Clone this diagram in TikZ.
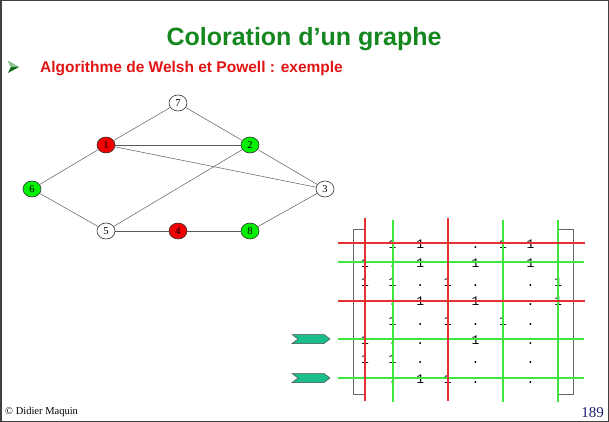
\documentclass[tikz,border=0pt]{standalone}
\usepackage{fontspec}
\setmainfont{Liberation Serif}
\newfontfamily\headfont{Liberation Sans}
\newfontfamily\matfont{Liberation Mono}
\usetikzlibrary{shapes.geometric}
\definecolor{titlegreen}{RGB}{20,135,30}
\definecolor{subred}{RGB}{225,20,20}
\definecolor{vred}{RGB}{240,0,0}
\definecolor{vgreen}{RGB}{0,240,0}
\definecolor{linered}{RGB}{228,50,50}
\definecolor{linegreen}{RGB}{60,232,60}
\definecolor{chev}{RGB}{25,190,140}
\definecolor{pagenum}{RGB}{30,30,110}
\definecolor{edgegray}{RGB}{90,90,90}
\begin{document}
\begin{tikzpicture}[x=1pt,y=-1pt,
  vertex/.style={draw=black!80,line width=0.6pt,ellipse,inner sep=0pt,
    minimum width=18pt,minimum height=16pt,font=\fontsize{10.5}{10.5}\selectfont},
  redv/.style={vertex,fill=vred},
  greenv/.style={vertex,fill=vgreen},
  whitev/.style={vertex,fill=white},
  edge/.style={draw=edgegray,line width=0.5pt},
  entry/.style={font=\matfont\fontsize{13}{13}\selectfont,inner sep=0pt,anchor=base},
  redline/.style={draw=linered,line width=2pt},
  greenline/.style={draw=linegreen,line width=2pt},
  bracket/.style={draw=black!60,line width=0.8pt},
  marker/.style={draw=black!70,line width=0.5pt,fill=chev,line join=miter},
]
\useasboundingbox (0,0) rectangle (609,422);
% page frame
\draw[black!75,line width=1.5pt] (0.75,0.75) rectangle (608.25,421.25);

% headings
\node[anchor=base,font=\headfont\bfseries\fontsize{25}{25}\selectfont,text=titlegreen]
  (title) at (304,46) {Coloration d’un graphe};
\fill[titlegreen!80!black] (8,61) -- (19,67) -- (8,73) -- (11,67) -- cycle;
\fill[titlegreen!50!white] (8,61) -- (19,67) -- (11,67) -- cycle;
\node[anchor=base west,inner sep=0pt,font=\headfont\bfseries\fontsize{15.5}{15.5}\selectfont,text=subred]
  (subtitle) at (40,73) {Algorithme de Welsh et Powell : exemple};

% graph
\node[whitev] (v7) at (178,103) {7};
\node[redv]   (v1) at (106,145) {1};
\node[greenv] (v2) at (250,145) {2};
\node[greenv] (v6) at (32,189)  {6};
\node[whitev] (v3) at (325,189) {3};
\node[whitev] (v5) at (106,231) {5};
\node[redv]   (v4) at (178,231) {4};
\node[greenv] (v8) at (250,231) {8};
\foreach \a/\b in {v1/v7,v7/v2,v1/v2,v1/v3,v1/v6,v6/v5,v5/v2,v5/v4,v4/v8,v8/v3,v2/v3}
  \draw[edge] (\a) -- (\b);

% adjacency matrix
\def\cx#1{365+27.6*(#1-1)}
\def\ry#1{248+19.3*(#1-1)}
\def\ly#1{243+19.3*(#1-1)}
\foreach \e [count=\c] in {.,1,1,.,.,1,1,.} \node[entry] (m1\c) at ({\cx{\c}},{\ry{1}}) {\e};
\foreach \e [count=\c] in {1,.,1,.,1,.,1,.} \node[entry] (m2\c) at ({\cx{\c}},{\ry{2}}) {\e};
\foreach \e [count=\c] in {1,1,.,1,.,.,.,1} \node[entry] (m3\c) at ({\cx{\c}},{\ry{3}}) {\e};
\foreach \e [count=\c] in {.,.,1,.,1,.,.,1} \node[entry] (m4\c) at ({\cx{\c}},{\ry{4}}) {\e};
\foreach \e [count=\c] in {.,1,.,1,.,1,.,.} \node[entry] (m5\c) at ({\cx{\c}},{\ry{5}}) {\e};
\foreach \e [count=\c] in {1,.,.,.,1,.,.,.} \node[entry] (m6\c) at ({\cx{\c}},{\ry{6}}) {\e};
\foreach \e [count=\c] in {1,1,.,.,.,.,.,.} \node[entry] (m7\c) at ({\cx{\c}},{\ry{7}}) {\e};
\foreach \e [count=\c] in {.,.,1,1,.,.,.,.} \node[entry] (m8\c) at ({\cx{\c}},{\ry{8}}) {\e};

% brackets
\draw[bracket] (365,229) -- (353,229) -- (353,394) -- (365,394);
\draw[bracket] (558,229) -- (573,229) -- (573,394) -- (558,394);

% colour classes: struck rows and columns
\draw[greenline] (338,262) -- (584,262);
\draw[greenline] (338,339) -- (584,339);
\draw[greenline] (338,378) -- (584,378);
\foreach \c in {2,6,8} \draw[greenline] ({\cx{\c}},220) -- ({\cx{\c}},402);
\draw[redline] (338,243) -- (585,243);
\draw[redline] (338,301) -- (585,301);
\foreach \c in {1,4} \draw[redline] ({\cx{\c}},218) -- ({\cx{\c}},401);

% markers pointing at the selected rows
\foreach \y/\n in {339/mk1,378/mk2} {
  \coordinate (\n) at (292,\y);
  \draw[marker] (\n) ++(0,-4.5) -- ++(32,0) -- ++(6,4.5) -- ++(-6,4.5) -- ++(-32,0) -- ++(6,-4.5) -- cycle;
}

% footer
\node[anchor=base west,inner sep=0pt,font=\fontsize{10.5}{10.5}\selectfont] (author) at (5,414) {© Didier Maquin};
\node[anchor=base east,inner sep=0pt,font=\fontsize{15}{15}\selectfont,text=pagenum] (page) at (604,417) {189};
\end{tikzpicture}
\end{document}
